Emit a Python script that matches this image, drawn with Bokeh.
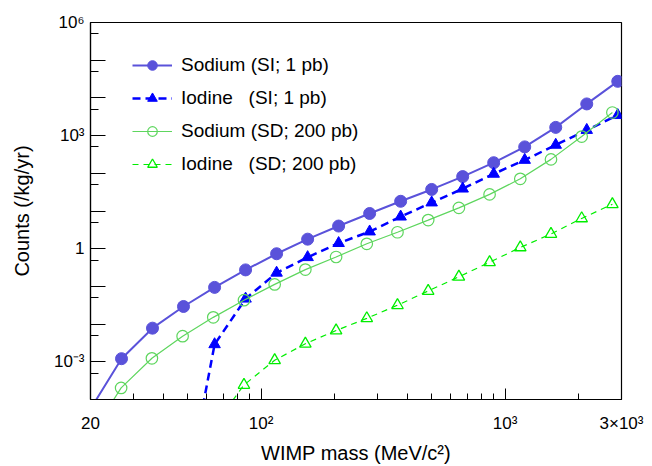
from bokeh.plotting import figure
from bokeh.models import FixedTicker, Legend, LegendItem
from bokeh.embed import file_html
from bokeh.resources import INLINE

# WIMP masses (MeV/c^2) for the SI and SD curves
mass_si = [20, 26.8, 35.9, 48.1, 64.5, 86.4, 115.8, 155.2, 207.9, 278.6,
           373.3, 500.2, 670.3, 898.2, 1203.6, 1612.9, 2161.3, 2896.1]
mass_sd = [20, 26.7, 35.7, 47.7, 63.7, 85.1, 113.7, 151.9, 203.0, 271.2,
           362.3, 484.1, 646.7, 864.0, 1154.3, 1542.2, 2060.3, 2752.6]

# Counts (/kg/yr)
sodium_si = [5.6e-5, 1.21e-3, 7.8e-3, 0.0293, 0.0942, 0.274, 0.735, 1.79, 3.99,
             8.59, 18.1, 37.3, 81.8, 191, 502, 1652, 6918, 2.75e4]
iodine_si_mass = mass_si[3:]
iodine_si = [1.3e-7, 2.9e-3, 0.047, 0.229, 0.592, 1.40, 2.84, 7.05, 16.7, 39.0,
             96.4, 225, 566, 1403, 3470]
sodium_sd = [1.07e-5, 2.03e-4, 1.24e-3, 4.79e-3, 0.0151, 0.043, 0.113, 0.279, 0.603,
             1.35, 2.73, 5.74, 12.1, 27.6, 71.3, 234, 942, 4100]
iodine_sd_mass = mass_sd[4:]
iodine_sd = [1.86e-5, 2.43e-4, 1.10e-3, 3.01e-3, 6.75e-3, 0.0142, 0.0317, 0.0757,
             0.18, 0.437, 1.08, 2.46, 6.35, 15.1]

labels = ["Sodium (SI; 1 pb)", "Iodine   (SI; 1 pb)",
          "Sodium (SD; 200 pb)", "Iodine   (SD; 200 pb)"]

x_ticks = [20, 100, 1000, 3000]
x_minor = [30, 40, 50, 60, 70, 80, 90, 200, 300, 400, 500, 600, 700, 800, 900, 2000]
x_labels = {20: "20", 100: "10²", 1000: "10³", 3000: "3×10³"}
y_ticks = [1e-4, 1e-3, 1e-2, 1e-1, 1, 10, 100, 1e3, 1e4, 1e5, 1e6]
y_minor = [5e-4, 5e-3, 5e-2, 0.5, 5, 50, 500, 5e3, 5e4, 5e5]
y_labels = {1e-3: "10⁻³", 1: "1", 1e3: "10³", 1e6: "10⁶"}

FONT = "Liberation Sans"
c_na_si = "#5a52da"
c_i_si = "#0000ff"
c_na_sd = "#5ed65e"
c_i_sd = "#00ee00"

p = figure(width=644, height=466, x_axis_type="log", y_axis_type="log",
           x_range=(20, 3000), y_range=(1e-4, 1e6),
           output_backend="svg", toolbar_location=None,
           min_border_left=90, min_border_right=23, min_border_top=22,
           min_border_bottom=63)
p.xgrid.visible = False
p.ygrid.visible = False
p.outline_line_color = "black"
p.outline_line_width = 1.2
p.outline_line_alpha = 1

r1l = p.line(mass_si, sodium_si, line_color=c_na_si, line_width=2)
r1s = p.scatter(mass_si, sodium_si, marker="circle", size=12,
                fill_color=c_na_si, line_color=c_na_si)
r2l = p.line(iodine_si_mass, iodine_si, line_color=c_i_si, line_width=2.5,
             line_dash="8 5")
r2s = p.scatter(iodine_si_mass, iodine_si, marker="triangle", size=11.5,
                fill_color=c_i_si, line_color=c_i_si)
r3l = p.line(mass_sd, sodium_sd, line_color=c_na_sd, line_width=1.2)
r3s = p.scatter(mass_sd, sodium_sd, marker="circle", size=11.5,
                fill_color=None, line_color=c_na_sd, line_width=1.2)
r4l = p.line(iodine_sd_mass, iodine_sd, line_color=c_i_sd, line_width=1.2,
             line_dash="6 5")
r4s = p.scatter(iodine_sd_mass, iodine_sd, marker="triangle", size=11.5,
                fill_color=None, line_color=c_i_sd, line_width=1.3)

# axes
xa = p.xaxis[0]
xa.ticker = FixedTicker(ticks=x_ticks, minor_ticks=x_minor)
xa.major_label_overrides = x_labels
xa.axis_label = "WIMP mass (MeV/c²)"
ya = p.yaxis[0]
ya.ticker = FixedTicker(ticks=y_ticks, minor_ticks=y_minor)
ya.major_label_overrides = {t: y_labels.get(t, "") for t in y_ticks}
ya.axis_label = "Counts (/kg/yr)"

for ax in (xa, ya):
    ax.axis_line_color = "black"
    ax.axis_line_width = 1.2
    ax.major_tick_line_color = "black"
    ax.minor_tick_line_color = "black"
    ax.major_tick_out = 0
    ax.minor_tick_out = 0
    ax.major_label_text_font = FONT
    ax.major_label_text_font_size = "17px"
    ax.major_label_text_color = "black"
    ax.axis_label_text_font = FONT
    ax.axis_label_text_font_size = "20px"
    ax.axis_label_text_font_style = "normal"
    ax.axis_label_text_color = "black"

xa.major_tick_in = 11
xa.minor_tick_in = 6
xa.major_label_standoff = 14
xa.axis_label_standoff = 6
ya.major_tick_in = 15
ya.minor_tick_in = 8
ya.major_label_standoff = 6
ya.axis_label_standoff = 18

legend = Legend(items=[
    LegendItem(label=labels[0], renderers=[r1l, r1s]),
    LegendItem(label=labels[1], renderers=[r2l, r2s]),
    LegendItem(label=labels[2], renderers=[r3l, r3s]),
    LegendItem(label=labels[3], renderers=[r4l, r4s]),
], location=(42, 223))
legend.label_text_font = FONT
legend.label_text_font_size = "19px"
legend.label_text_color = "black"
legend.glyph_width = 40
legend.glyph_height = 24
legend.label_height = 24
legend.spacing = 9
legend.label_standoff = 9
legend.padding = 0
legend.margin = 0
legend.border_line_alpha = 0
legend.background_fill_alpha = 0
p.add_layout(legend)

open("out.html", "w").write(file_html(p, INLINE))
